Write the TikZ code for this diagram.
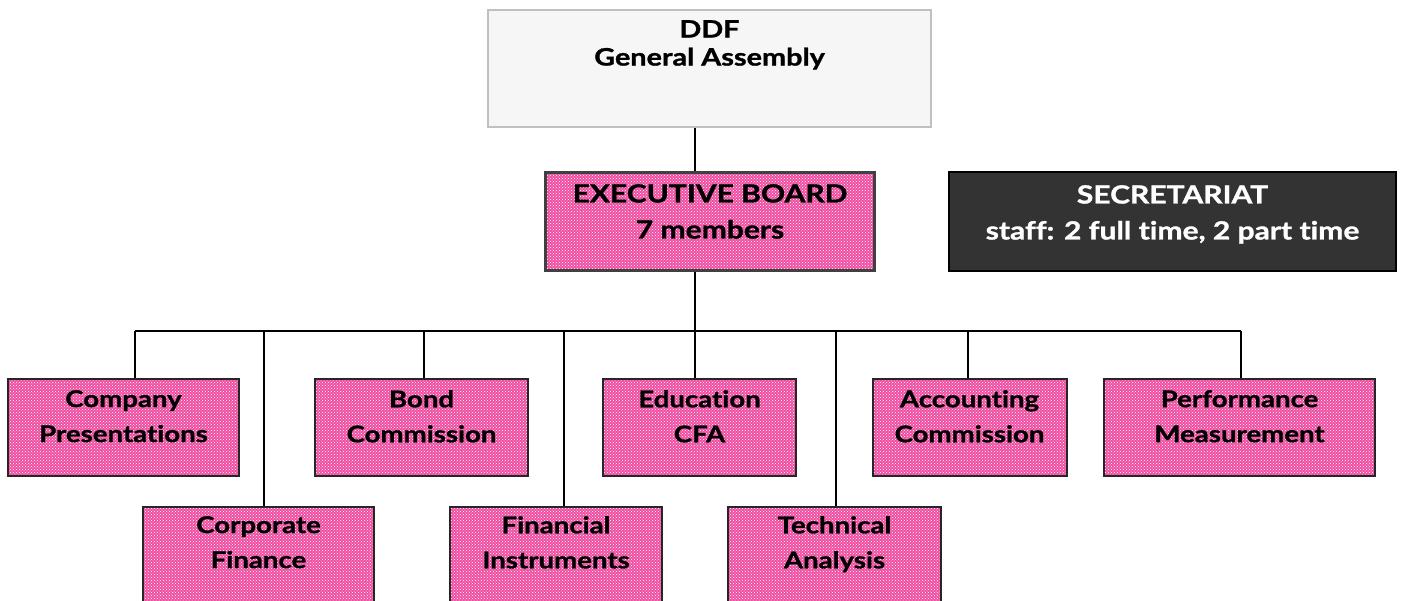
\documentclass[tikz,border=0pt]{standalone}
\usepackage{fontspec}
\setmainfont{Lato}[FakeStretch=1.2, Ligatures={NoCommon}, BoldFeatures={FakeBold=1.2}]
\usetikzlibrary{patterns}
\definecolor{pinkbase}{RGB}{240,78,162}
\definecolor{ddffill}{RGB}{246,246,246}
\definecolor{ddfline}{RGB}{192,192,192}
\definecolor{secfill}{RGB}{51,51,51}
\definecolor{execline}{RGB}{64,64,64}
\tikzset{
  box/.style={rectangle, anchor=north west, inner sep=0pt, line width=2pt},
  pinkbox/.style={box, draw=black!85, preaction={fill=pinkbase}, pattern=crosshatch dots, pattern color=white},
  ddfbox/.style={box, draw=ddfline, fill=ddffill},
  execbox/.style={pinkbox, draw=execline, line width=3pt},
  secbox/.style={box, draw=black, fill=secfill},
  lbl/.style={inner sep=0pt, align=center, anchor=north, font=\bfseries\fontsize{23}{35}\selectfont},
  biglbl/.style={lbl, font=\bfseries\fontsize{25}{36}\selectfont},
  conn/.style={line width=2pt, black},
}
\begin{document}
\begin{tikzpicture}[x=1pt, y=-1pt]
\clip (0,0) rectangle (1406,600);
\fill[white] (0,0) rectangle (1406,600);

% boxes
\node[ddfbox, minimum width=443pt, minimum height=117pt] (ddf) at (487,9) {};
\node[execbox, minimum width=329pt, minimum height=98pt] (exec) at (544,171) {};
\node[secbox, minimum width=447pt, minimum height=99pt] (sec) at (948,171) {};

\node[pinkbox, minimum width=231pt, minimum height=97pt] (company) at (7,378) {};
\node[pinkbox, minimum width=213pt, minimum height=97pt] (bond) at (314,378) {};
\node[pinkbox, minimum width=193pt, minimum height=97pt] (education) at (602,378) {};
\node[pinkbox, minimum width=194pt, minimum height=97pt] (accounting) at (871.5,378) {};
\node[pinkbox, minimum width=271pt, minimum height=97pt] (performance) at (1103,378) {};

\node[pinkbox, minimum width=231pt, minimum height=104pt] (corporate) at (142,506) {};
\node[pinkbox, minimum width=212pt, minimum height=104pt] (financial) at (449,506) {};
\node[pinkbox, minimum width=213pt, minimum height=104pt] (technical) at (727,506) {};

% labels
\node[biglbl, font=\bfseries\fontsize{24}{28}\selectfont] (ddf-t) at ([yshift=-11pt]ddf.north) {DDF\\General Assembly};
\node[biglbl] (exec-t) at ([yshift=-13pt]exec.north) {EXECUTIVE BOARD\\7 members};
\node[biglbl, text=white] (sec-t) at ([yshift=-14pt]sec.north) {SECRETARIAT\\staff: 2 full time, 2 part time};

\node[lbl] (company-t) at ([yshift=-12pt]company.north) {Company\\Presentations};
\node[lbl] (bond-t) at ([yshift=-12pt]bond.north) {Bond\\Commission};
\node[lbl] (education-t) at ([yshift=-12pt]education.north) {Education\\CFA};
\node[lbl] (accounting-t) at ([yshift=-12pt]accounting.north) {Accounting\\Commission};
\node[lbl] (performance-t) at ([yshift=-12pt]performance.north) {Performance\\Measurement};
\node[lbl] (corporate-t) at ([yshift=-10pt]corporate.north) {Corporate\\Finance};
\node[lbl] (financial-t) at ([yshift=-10pt]financial.north) {Financial\\Instruments};
\node[lbl] (technical-t) at ([yshift=-10pt]technical.north) {Technical\\Analysis};

% connectors
\coordinate (trunk) at (695,331);
\coordinate (busL) at (135,331);
\coordinate (busR) at (1241,331);
\coordinate (tCorp) at (264,331);
\coordinate (tBond) at (424,331);
\coordinate (tFin) at (564,331);
\coordinate (tTech) at (836,331);
\coordinate (tAcc) at (968,331);

\draw[conn] (ddf.south -| trunk) -- (exec.north -| trunk);
\draw[conn] (exec.south -| trunk) -- (trunk);
\draw[conn] (busL) -- (busR);
\draw[conn] (busL) -- (company.north -| busL);
\draw[conn] (tCorp) -- (corporate.north -| tCorp);
\draw[conn] (tBond) -- (bond.north -| tBond);
\draw[conn] (tFin) -- (financial.north -| tFin);
\draw[conn] (trunk) -- (education.north -| trunk);
\draw[conn] (tTech) -- (technical.north -| tTech);
\draw[conn] (tAcc) -- (accounting.north -| tAcc);
\draw[conn] (busR) -- (performance.north -| busR);
\end{tikzpicture}
\end{document}
